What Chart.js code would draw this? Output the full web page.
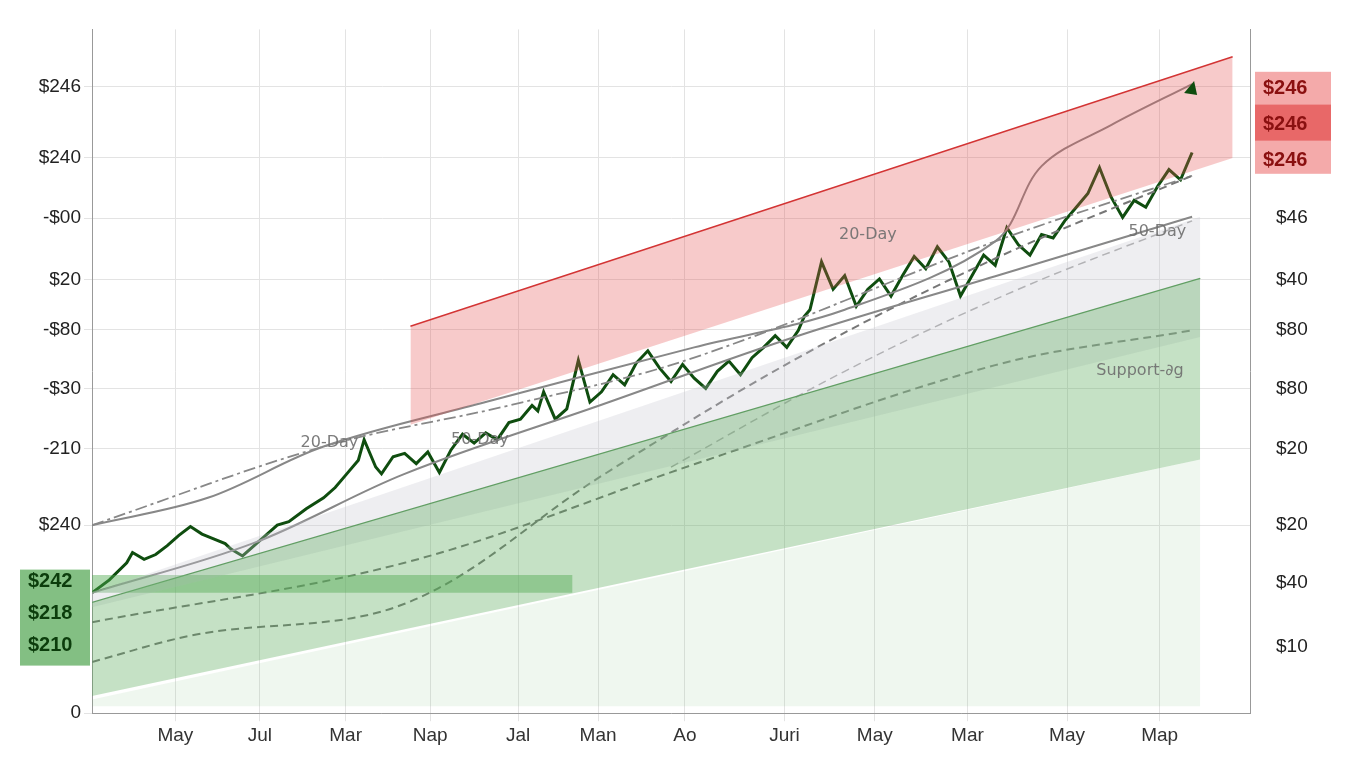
<!DOCTYPE html>
<html><head><meta charset="utf-8">
<script src="https://cdn.jsdelivr.net/npm/chart.js@4"></script>
<style>html,body{margin:0;background:#fff}</style>
</head><body><canvas id="c" width="1360" height="768"></canvas>
<script>
// x in 0..100, y in 0..100 (chart units)
const xTicks = [7.2, 14.5, 21.9, 29.2, 36.8, 43.7, 51.2, 59.8, 67.6, 75.6, 84.2, 92.2];
const xLabels = ['May', 'Jul', 'Mar', 'Nap', 'Jal', 'Man', 'Ao', 'Juri', 'May', 'Mar', 'May', 'Map'];
const yTicksL = [91.6, 81.2, 72.4, 63.4, 56.1, 47.5, 38.7, 27.5, 0];
const yLabelsL = ['$246', '$240', '-$00', '$20', '-$80', '-$30', '-210', '$240', '0'];
const yTicksR = [72.4, 63.4, 56.1, 47.5, 38.7, 27.5, 19.1, 9.7];
const yLabelsR = ['$46', '$40', '$80', '$80', '$20', '$20', '$40', '$10'];
const leftBox = ['$242', '$218', '$210'];
const rightBox = ['$246', '$246', '$246'];

const priceX = [0,1.5,3,3.5,4.5,5.5,6.5,7.5,8.5,9.5,10.5,11.5,12,13,14,15,16,17,18.5,20,21,22,23,23.5,24.5,25,26,27,28,29,30,31,32,33,34,35,36,37,38,38.5,39,40,41,42,43,44,45,46,47,48,49,50,51,52,53,54,55,56,57,58,59,60,61,61.5,62,63,64,65,66,67,68,69,70,71,72,73,74,75,76,77,78,79,80,81,82,83,84,85,86,87,88,89,90,91,92,93,94,95];
const priceY = [17.6,19.5,22,23.5,22.5,23.2,24.5,26,27.3,26.2,25.5,24.8,24,23,24.5,26,27.5,28,29.9,31.5,33,35,37,40,36,35,37.5,38,36.5,38.2,35.2,38.5,40.8,39.5,41,40,42.5,43,45,44.2,47,43,44.5,51.6,45.5,47,49.5,48,51.2,53,50.5,48.5,51,49,47.5,50,51.5,49.5,52,53.5,55.2,53.5,56,58,59,66,62,64,59.5,62,63.5,61,64,66.8,65,68.2,66,61,64,67,65.5,71,68.5,67,70,69.5,72,74,76,79.8,75.5,72.5,75,74,77,79.5,78,82,85,88.4,86,84,87,89.5,91.3];

const ma20X = [0,10,20,34,52,65,78,82,88,95];
const ma20Y = [27.5,31.5,39,45.5,53.5,59,69,80,86,92];
const ma50X = [0,14,27,44,61,78,95];
const ma50Y = [17.6,24.9,35,45.1,55.2,63.9,72.6];
const dash1X = [0,9,27,44,61,78,95];
const dash1Y = [7.5,11.5,16,34.7,52,66.5,78.6];
const dash2X = [0,27,52,78,95];
const dash2Y = [13.3,22,36.4,50.9,56];
const dash3X = [0,20,36,52,78,95];
const dash3Y = [27.5,39,45,52,69,78.6];
const dash4X = [50,65,80,95];
const dash4Y = [36,50,62,72];

const redTopX = [27.5, 98.5], redTopY = [56.6, 96];
const redBotX = [27.5, 98.5], redBotY = [42.2, 81.2];
const grnTopX = [0, 95.7], grnTopY = [16.2, 63.6];
const grnBotX = [0, 95.7], grnBotY = [2.5, 37.1];
const lgtTopX = [0, 95.7], lgtTopY = [2, 37.1];
const lgtBotX = [0, 95.7], lgtBotY = [1, 1];
const gryTopX = [0, 95.7], gryTopY = [17.6, 72.6];
const gryBotX = [0, 95.7], gryBotY = [15.5, 55];
const supX = [0, 41.5], supY = [20.2, 20.2];
const supBX = [0, 41.5], supBY = [17.6, 17.6];

const pts = (xs, ys) => xs.map((x, i) => ({x, y: ys[i]}));
const area = (d, color) => ({data: d, borderWidth: 0, pointRadius: 0, fill: '+1', backgroundColor: color, tension: 0});
const edge = (d, color, w) => ({data: d, borderWidth: w || 0, borderColor: color, pointRadius: 0, fill: false});
const ln = (d, color, w, dash, t) => ({data: d, borderColor: color, borderWidth: w, borderDash: dash || [], pointRadius: 0, fill: false, tension: t === undefined ? 0.35 : t});

const datasets = [
  area(pts(lgtTopX, lgtTopY), 'rgba(120,190,120,0.12)'), edge(pts(lgtBotX, lgtBotY)),
  area(pts(grnTopX, grnTopY), 'rgba(90,170,90,0.35)'), edge(pts(grnBotX, grnBotY)),
  area(pts(gryTopX, gryTopY), 'rgba(200,200,210,0.3)'), edge(pts(gryBotX, gryBotY)),
  area(pts(redTopX, redTopY), 'rgba(230,80,80,0.3)'), edge(pts(redBotX, redBotY)),
  area(pts(supX, supY), 'rgba(80,170,80,0.45)'), edge(pts(supBX, supBY)),
  ln(pts(redTopX, redTopY), '#d03030', 1.5, [], 0),
  ln(pts(grnTopX, grnTopY), '#3a8a3a', 1.2, [], 0),
  ln(pts(ma20X, ma20Y), '#888', 2),
  ln(pts(ma50X, ma50Y), '#888', 2),
  ln(pts(dash1X, dash1Y), '#777', 2, [8, 5]),
  ln(pts(dash2X, dash2Y), '#777', 2, [8, 5]),
  ln(pts(dash3X, dash3Y), '#888', 1.8, [12, 4, 3, 4]),
  ln(pts(dash4X, dash4Y), '#aaa', 1.5, [8, 5]),
  ln(pts(priceX, priceY), '#0f4d0f', 3, [], 0)
];

const notes = [
  {x: 20.5, y: 39, t: '20-Day'}, {x: 33.5, y: 39.3, t: '50-Day'},
  {x: 67, y: 69.3, t: '20-Day'}, {x: 92, y: 69.8, t: '50-Day'},
  {x: 90.5, y: 49.4, t: 'Support-∂g'}
];

const overlay = {
  id: 'overlay',
  afterDatasetsDraw(chart) {
    const {ctx, scales: {x, y}} = chart;
    ctx.save();
    ctx.font = '16px "DejaVu Sans"';
    ctx.fillStyle = 'rgba(110,110,110,0.9)';
    ctx.textAlign = 'center';
    notes.forEach(n => ctx.fillText(n.t, x.getPixelForValue(n.x), y.getPixelForValue(n.y)));
    const px = x.getPixelForValue(95), py = y.getPixelForValue(91.3);
    ctx.fillStyle = '#0f4d0f';
    ctx.beginPath(); ctx.moveTo(px + 2, py - 8); ctx.lineTo(px - 8, py + 4); ctx.lineTo(px + 5, py + 6); ctx.fill();
    ctx.font = 'bold 20px "Liberation Sans"';
    const bl = x.left - 72;
    ctx.fillStyle = 'rgba(90,170,90,0.75)';
    ctx.fillRect(bl, y.getPixelForValue(21), 70, 96);
    ctx.fillStyle = '#0c3d0c';
    ctx.textAlign = 'left';
    leftBox.forEach((t, i) => ctx.fillText(t, bl + 8, y.getPixelForValue(18.5) + i * 32));
    const br = x.right + 5;
    ctx.fillStyle = 'rgba(235,100,100,0.55)';
    ctx.fillRect(br, y.getPixelForValue(93.8), 76, 102);
    ctx.fillStyle = 'rgba(225,60,60,0.6)';
    ctx.fillRect(br, y.getPixelForValue(89), 76, 36);
    ctx.fillStyle = '#8a1010';
    rightBox.forEach((t, i) => ctx.fillText(t, br + 8, y.getPixelForValue(90.5) + i * 36));
    ctx.restore();
  }
};

new Chart(document.getElementById('c'), {
  type: 'line',
  data: {datasets},
  plugins: [overlay],
  options: {
    responsive: false, animation: false,
    layout: {padding: {left: 10, right: 28, top: 4, bottom: 18}},
    plugins: {legend: {display: false}, tooltip: {enabled: false}},
    scales: {
      x: {
        type: 'linear', min: 0, max: 100,
        afterBuildTicks: s => { s.ticks = xTicks.map(v => ({value: v})); },
        ticks: {callback: (v, i) => xLabels[i], font: {size: 19, family: 'Liberation Sans'}, color: '#333', maxRotation: 0, autoSkip: false},
        grid: {color: '#e3e3e3'}, border: {color: '#999'}
      },
      y: {
        type: 'linear', min: 0, max: 100, position: 'left',
        afterBuildTicks: s => { s.ticks = yTicksL.map(v => ({value: v})); },
        ticks: {callback: (v, i) => yLabelsL[i], font: {size: 19, family: 'Liberation Sans'}, color: '#222', autoSkip: false},
        afterFit: s => { s.width = 82; },
        grid: {color: '#e3e3e3'}, border: {color: '#999'}
      },
      y2: {
        type: 'linear', min: 0, max: 100, position: 'right',
        afterBuildTicks: s => { s.ticks = yTicksR.map(v => ({value: v})); },
        ticks: {callback: (v, i) => yLabelsR[i], font: {size: 19, family: 'Liberation Sans'}, color: '#222', autoSkip: false, padding: 18},
        afterFit: s => { s.width = 82; },
        grid: {display: false}, border: {color: '#999'}
      }
    }
  }
});
</script></body></html>
